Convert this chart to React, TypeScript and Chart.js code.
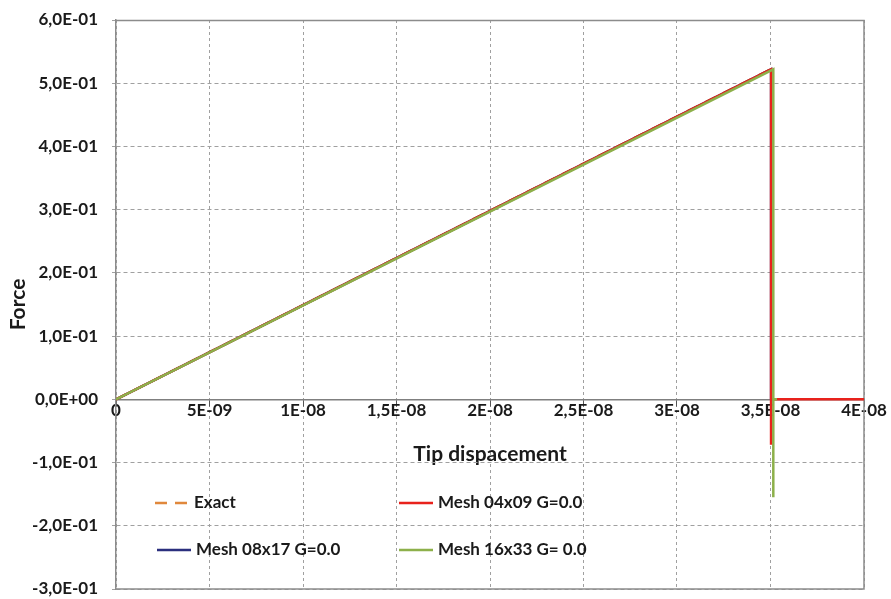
import React, { useEffect, useRef } from "react";
import { Chart, registerables } from "chart.js";

Chart.register(...registerables);

// ---- data ----
const xTickValues = [0, 5e-9, 1e-8, 1.5e-8, 2e-8, 2.5e-8, 3e-8, 3.5e-8, 4e-8];
const yTickValues = [-0.3, -0.2, -0.1, 0, 0.1, 0.2, 0.3, 0.4, 0.5, 0.6];

const exactX = [0, 3.5e-8];
const exactY = [0, 0.522];

const mesh04X = [0, 3.503e-8, 3.503e-8, 3.503e-8, 3.535e-8, 4e-8];
const mesh04Y = [0, 0.522, -0.072, 0, 0, 0];

const mesh08X = [0, 3.503e-8, 3.503e-8];
const mesh08Y = [0, 0.522, 0];

const mesh16X = [0, 3.515e-8, 3.515e-8, 3.515e-8, 3.515e-8, 3.535e-8];
const mesh16Y = [0, 0.522, -0.155, 0.025, 0, 0];

const seriesNames = ["Exact", "Mesh 04x09 G=0.0", "Mesh 08x17 G=0.0", "Mesh 16x33 G= 0.0"];

const zip = (xs: number[], ys: number[]) => xs.map((x, i) => ({ x, y: ys[i] }));

const FONT = "Lato, 'Open Sans', sans-serif";

function fmtY(v: number): string {
  const r = Math.round(v * 1e10) / 1e10;
  if (r === 0) return "0,0E+00";
  const exp = Math.floor(Math.log10(Math.abs(r)) + 1e-9);
  const m = r / Math.pow(10, exp);
  const e = Math.abs(exp).toString().padStart(2, "0");
  return `${m.toFixed(1).replace(".", ",")}E${exp < 0 ? "-" : "+"}${e}`;
}

function fmtX(v: number): string {
  if (Math.abs(v) < 1e-20) return "0";
  const exp = Math.floor(Math.log10(Math.abs(v)) + 1e-9);
  const m = Math.round((v / Math.pow(10, exp)) * 10) / 10;
  const ms = Number.isInteger(m) ? String(m) : String(m).replace(".", ",");
  const e = Math.abs(exp).toString().padStart(2, "0");
  return `${ms}E${exp < 0 ? "-" : "+"}${e}`;
}

const framePlugin = {
  id: "frame",
  beforeDatasetsDraw(chart: any) {
    const { ctx, chartArea } = chart;
    ctx.save();
    ctx.strokeStyle = "#8c8c8c";
    ctx.lineWidth = 1.5;
    ctx.beginPath();
    ctx.moveTo(chartArea.left, chartArea.top + 0.5);
    ctx.lineTo(chartArea.right, chartArea.top + 0.5);
    ctx.lineTo(chartArea.right, chartArea.bottom);
    ctx.lineTo(chartArea.left, chartArea.bottom);
    ctx.stroke();
    ctx.restore();
  },
};

const legendPlugin = {
  id: "customLegend",
  afterDatasetsDraw(chart: any) {
    const { ctx } = chart;
    const items = [
      { ds: 0, x: 155, y: 503 },
      { ds: 1, x: 399, y: 503 },
      { ds: 2, x: 157, y: 550 },
      { ds: 3, x: 399, y: 550 },
    ];
    ctx.save();
    items.forEach((it) => {
      const ds = chart.data.datasets[it.ds];
      ctx.strokeStyle = ds.borderColor;
      ctx.lineWidth = 2.5;
      ctx.setLineDash(ds.borderDash || []);
      ctx.beginPath();
      ctx.moveTo(it.x, it.y);
      ctx.lineTo(it.x + 34, it.y);
      ctx.stroke();
      ctx.setLineDash([]);
      ctx.fillStyle = "#1a1a1a";
      ctx.font = `bold 17px ${FONT}`;
      ctx.textBaseline = "middle";
      ctx.textAlign = "left";
      ctx.fillText(ds.label, it.x + 39, it.y);
    });
    ctx.restore();
  },
};

export default function App() {
  const ref = useRef<HTMLCanvasElement | null>(null);

  useEffect(() => {
    if (!ref.current) return;
    const chart = new Chart(ref.current, {
      type: "scatter",
      data: {
        datasets: [
          {
            label: seriesNames[0],
            data: zip(exactX, exactY),
            borderColor: "#e0883c",
            borderDash: [12, 8],
            borderWidth: 2.5,
            showLine: true,
            pointRadius: 0,
            order: 3,
          },
          {
            label: seriesNames[1],
            data: zip(mesh04X, mesh04Y),
            borderColor: "#e8221c",
            borderWidth: 2.5,
            showLine: true,
            pointRadius: 0,
            order: 1,
          },
          {
            label: seriesNames[2],
            data: zip(mesh08X, mesh08Y),
            borderColor: "#2b2f7e",
            borderWidth: 2.5,
            showLine: true,
            pointRadius: 0,
            order: 2,
          },
          {
            label: seriesNames[3],
            data: zip(mesh16X, mesh16Y),
            borderColor: "#8db04a",
            borderWidth: 2.5,
            showLine: true,
            pointRadius: 0,
            order: 0,
          },
        ] as any,
      },
      options: {
        animation: false,
        responsive: false,
        maintainAspectRatio: false,
        layout: { padding: { left: 0, right: 27, top: 20, bottom: 10 } },
        plugins: {
          legend: { display: false },
          tooltip: { enabled: false },
        },
        scales: {
          x: {
            type: "linear",
            position: { y: 0 } as any,
            min: 0,
            max: 4e-8,
            afterBuildTicks: (s: any) => {
              s.ticks = xTickValues.map((v) => ({ value: v }));
            },
            afterFit: (s: any) => {
              s.paddingTop = 0;
              s.paddingBottom = 0;
              s.paddingLeft = 0;
              s.paddingRight = 0;
            },
            ticks: {
              callback: (v: any) => fmtX(Number(v)),
              font: { family: FONT, size: 17, weight: "bold" },
              color: "#1a1a1a",
              padding: -5,
              maxRotation: 0,
              autoSkip: false,
            },
            grid: {
              color: "#a0a0a0",
              tickColor: "#555555",
              tickLength: 6,
              drawTicks: true,
              lineWidth: 1,
            },
            border: { display: true, color: "#7f7f7f", width: 1.5, dash: [3, 3] },
            title: {
              display: true,
              text: "Tip dispacement",
              font: { family: FONT, size: 21, weight: "bold" },
              color: "#1a1a1a",
              padding: { top: 26, bottom: 0 },
            },
          },
          y: {
            type: "linear",
            min: -0.3,
            max: 0.6,
            afterBuildTicks: (s: any) => {
              s.ticks = yTickValues.map((v) => ({ value: v }));
            },
            afterFit: (s: any) => {
              s.width = 116;
              s.paddingTop = 0;
              s.paddingBottom = 0;
            },
            ticks: {
              callback: (v: any) => fmtY(Number(v)),
              font: { family: FONT, size: 17, weight: "bold" },
              color: "#1a1a1a",
              padding: 14,
            },
            grid: {
              color: "#a0a0a0",
              tickColor: "#a0a0a0",
              tickLength: 4,
              lineWidth: 1,
            },
            border: { display: true, color: "#8c8c8c", width: 1.5, dash: [4, 3] },
            title: {
              display: true,
              text: "Force",
              font: { family: FONT, size: 21, weight: "bold" },
              color: "#1a1a1a",
              padding: { top: 6, bottom: 0 },
            },
          },
        },
      } as any,
      plugins: [framePlugin, legendPlugin],
    });
    return () => chart.destroy();
  }, []);

  return (
    <div style={{ position: "fixed", left: 0, top: 0, width: 891, height: 599, background: "#ffffff" }}>
      <canvas ref={ref} width={891} height={599} style={{ width: 891, height: 599 }} />
    </div>
  );
}
